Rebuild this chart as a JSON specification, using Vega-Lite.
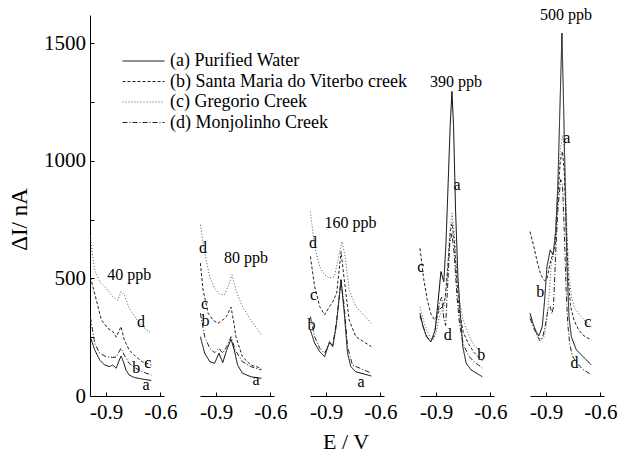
{
"$schema": "https://vega.github.io/schema/vega-lite/v6.json",
"background": "white",
"padding": {"left": 8, "top": 7, "right": 5, "bottom": 0},
"config": {
  "font": "Liberation Serif, Times New Roman, DejaVu Serif, serif",
  "view": {"stroke": null},
  "axis": {"domainColor": "black", "tickColor": "black", "labelColor": "black", "titleColor": "black", "grid": false, "labelFont": "Liberation Serif, Times New Roman, DejaVu Serif, serif", "titleFont": "Liberation Serif, Times New Roman, DejaVu Serif, serif", "titleFontWeight": "normal", "labelFontSize": 21, "tickSize": -4, "domainWidth": 1, "tickWidth": 1},
  "header": {"titleFont": "Liberation Serif, Times New Roman, DejaVu Serif, serif", "titleFontSize": 22, "titleColor": "black", "titleFontWeight": "normal"},
  "legend": {"labelFont": "Liberation Serif, Times New Roman, DejaVu Serif, serif"},
  "text": {"font": "Liberation Serif, Times New Roman, DejaVu Serif, serif"}
},
"data": {"values": [
{"p":1,"s":"a","x":-0.988,"y":250},{"p":1,"s":"a","x":-0.964,"y":196},{"p":1,"s":"a","x":-0.936,"y":153},{"p":1,"s":"a","x":-0.909,"y":132},{"p":1,"s":"a","x":-0.882,"y":125},{"p":1,"s":"a","x":-0.864,"y":132},{"p":1,"s":"a","x":-0.845,"y":118},{"p":1,"s":"a","x":-0.831,"y":146},{"p":1,"s":"a","x":-0.818,"y":170},{"p":1,"s":"a","x":-0.805,"y":146},{"p":1,"s":"a","x":-0.791,"y":111},{"p":1,"s":"a","x":-0.773,"y":89},{"p":1,"s":"a","x":-0.745,"y":79},{"p":1,"s":"a","x":-0.7,"y":72},{"p":1,"s":"a","x":-0.65,"y":66},
{"p":1,"s":"b","x":-0.988,"y":506},{"p":1,"s":"b","x":-0.955,"y":408},{"p":1,"s":"b","x":-0.927,"y":323},{"p":1,"s":"b","x":-0.891,"y":288},{"p":1,"s":"b","x":-0.864,"y":274},{"p":1,"s":"b","x":-0.845,"y":250},{"p":1,"s":"b","x":-0.818,"y":295},{"p":1,"s":"b","x":-0.8,"y":238},{"p":1,"s":"b","x":-0.773,"y":196},{"p":1,"s":"b","x":-0.736,"y":167},{"p":1,"s":"b","x":-0.7,"y":146},{"p":1,"s":"b","x":-0.65,"y":132},
{"p":1,"s":"c","x":-0.988,"y":680},{"p":1,"s":"c","x":-0.975,"y":590},{"p":1,"s":"c","x":-0.964,"y":536},{"p":1,"s":"c","x":-0.936,"y":486},{"p":1,"s":"c","x":-0.9,"y":458},{"p":1,"s":"c","x":-0.864,"y":423},{"p":1,"s":"c","x":-0.836,"y":408},{"p":1,"s":"c","x":-0.818,"y":444},{"p":1,"s":"c","x":-0.8,"y":430},{"p":1,"s":"c","x":-0.773,"y":373},{"p":1,"s":"c","x":-0.736,"y":331},{"p":1,"s":"c","x":-0.7,"y":295},{"p":1,"s":"c","x":-0.65,"y":267},
{"p":1,"s":"d","x":-0.988,"y":336},{"p":1,"s":"d","x":-0.964,"y":224},{"p":1,"s":"d","x":-0.936,"y":182},{"p":1,"s":"d","x":-0.9,"y":167},{"p":1,"s":"d","x":-0.864,"y":164},{"p":1,"s":"d","x":-0.845,"y":166},{"p":1,"s":"d","x":-0.818,"y":203},{"p":1,"s":"d","x":-0.8,"y":174},{"p":1,"s":"d","x":-0.773,"y":139},{"p":1,"s":"d","x":-0.736,"y":118},{"p":1,"s":"d","x":-0.7,"y":103},{"p":1,"s":"d","x":-0.65,"y":89},
{"p":2,"s":"a","x":-0.988,"y":252},{"p":2,"s":"a","x":-0.964,"y":182},{"p":2,"s":"a","x":-0.936,"y":146},{"p":2,"s":"a","x":-0.909,"y":139},{"p":2,"s":"a","x":-0.885,"y":182},{"p":2,"s":"a","x":-0.864,"y":142},{"p":2,"s":"a","x":-0.842,"y":196},{"p":2,"s":"a","x":-0.818,"y":241},{"p":2,"s":"a","x":-0.8,"y":196},{"p":2,"s":"a","x":-0.782,"y":132},{"p":2,"s":"a","x":-0.755,"y":97},{"p":2,"s":"a","x":-0.709,"y":82},{"p":2,"s":"a","x":-0.65,"y":75},
{"p":2,"s":"b","x":-0.988,"y":565},{"p":2,"s":"b","x":-0.973,"y":451},{"p":2,"s":"b","x":-0.945,"y":352},{"p":2,"s":"b","x":-0.918,"y":323},{"p":2,"s":"b","x":-0.891,"y":309},{"p":2,"s":"b","x":-0.864,"y":323},{"p":2,"s":"b","x":-0.842,"y":340},{"p":2,"s":"b","x":-0.818,"y":378},{"p":2,"s":"b","x":-0.8,"y":300},{"p":2,"s":"b","x":-0.791,"y":252},{"p":2,"s":"b","x":-0.755,"y":167},{"p":2,"s":"b","x":-0.709,"y":132},{"p":2,"s":"b","x":-0.65,"y":118},
{"p":2,"s":"c","x":-0.988,"y":728},{"p":2,"s":"c","x":-0.964,"y":607},{"p":2,"s":"c","x":-0.936,"y":508},{"p":2,"s":"c","x":-0.909,"y":458},{"p":2,"s":"c","x":-0.882,"y":434},{"p":2,"s":"c","x":-0.855,"y":430},{"p":2,"s":"c","x":-0.831,"y":472},{"p":2,"s":"c","x":-0.813,"y":515},{"p":2,"s":"c","x":-0.791,"y":451},{"p":2,"s":"c","x":-0.755,"y":380},{"p":2,"s":"c","x":-0.709,"y":323},{"p":2,"s":"c","x":-0.65,"y":260},
{"p":2,"s":"d","x":-0.988,"y":352},{"p":2,"s":"d","x":-0.964,"y":252},{"p":2,"s":"d","x":-0.936,"y":203},{"p":2,"s":"d","x":-0.909,"y":184},{"p":2,"s":"d","x":-0.885,"y":203},{"p":2,"s":"d","x":-0.864,"y":182},{"p":2,"s":"d","x":-0.842,"y":210},{"p":2,"s":"d","x":-0.818,"y":252},{"p":2,"s":"d","x":-0.795,"y":196},{"p":2,"s":"d","x":-0.755,"y":146},{"p":2,"s":"d","x":-0.709,"y":125},{"p":2,"s":"d","x":-0.65,"y":111},
{"p":3,"s":"a","x":-0.988,"y":281},{"p":3,"s":"a","x":-0.964,"y":224},{"p":3,"s":"a","x":-0.936,"y":189},{"p":3,"s":"a","x":-0.909,"y":167},{"p":3,"s":"a","x":-0.882,"y":231},{"p":3,"s":"a","x":-0.864,"y":210},{"p":3,"s":"a","x":-0.845,"y":295},{"p":3,"s":"a","x":-0.818,"y":494},{"p":3,"s":"a","x":-0.8,"y":352},{"p":3,"s":"a","x":-0.782,"y":182},{"p":3,"s":"a","x":-0.764,"y":125},{"p":3,"s":"a","x":-0.736,"y":103},{"p":3,"s":"a","x":-0.65,"y":85},
{"p":3,"s":"b","x":-0.988,"y":593},{"p":3,"s":"b","x":-0.964,"y":465},{"p":3,"s":"b","x":-0.936,"y":380},{"p":3,"s":"b","x":-0.909,"y":345},{"p":3,"s":"b","x":-0.882,"y":380},{"p":3,"s":"b","x":-0.864,"y":401},{"p":3,"s":"b","x":-0.842,"y":437},{"p":3,"s":"b","x":-0.818,"y":614},{"p":3,"s":"b","x":-0.8,"y":494},{"p":3,"s":"b","x":-0.773,"y":323},{"p":3,"s":"b","x":-0.736,"y":252},{"p":3,"s":"b","x":-0.65,"y":210},
{"p":3,"s":"c","x":-0.988,"y":784},{"p":3,"s":"c","x":-0.964,"y":635},{"p":3,"s":"c","x":-0.936,"y":550},{"p":3,"s":"c","x":-0.909,"y":515},{"p":3,"s":"c","x":-0.882,"y":501},{"p":3,"s":"c","x":-0.855,"y":508},{"p":3,"s":"c","x":-0.831,"y":593},{"p":3,"s":"c","x":-0.813,"y":657},{"p":3,"s":"c","x":-0.795,"y":593},{"p":3,"s":"c","x":-0.773,"y":451},{"p":3,"s":"c","x":-0.736,"y":380},{"p":3,"s":"c","x":-0.65,"y":309},
{"p":3,"s":"d","x":-0.988,"y":337},{"p":3,"s":"d","x":-0.964,"y":252},{"p":3,"s":"d","x":-0.936,"y":203},{"p":3,"s":"d","x":-0.909,"y":182},{"p":3,"s":"d","x":-0.882,"y":224},{"p":3,"s":"d","x":-0.864,"y":217},{"p":3,"s":"d","x":-0.842,"y":323},{"p":3,"s":"d","x":-0.818,"y":494},{"p":3,"s":"d","x":-0.8,"y":380},{"p":3,"s":"d","x":-0.782,"y":210},{"p":3,"s":"d","x":-0.755,"y":132},{"p":3,"s":"d","x":-0.65,"y":97},
{"p":4,"s":"a","x":-0.99,"y":352},{"p":4,"s":"a","x":-0.973,"y":295},{"p":4,"s":"a","x":-0.954,"y":252},{"p":4,"s":"a","x":-0.93,"y":230},{"p":4,"s":"a","x":-0.906,"y":281},{"p":4,"s":"a","x":-0.891,"y":394},{"p":4,"s":"a","x":-0.885,"y":440},{"p":4,"s":"a","x":-0.874,"y":529},{"p":4,"s":"a","x":-0.858,"y":486},{"p":4,"s":"a","x":-0.846,"y":650},{"p":4,"s":"a","x":-0.836,"y":862},{"p":4,"s":"a","x":-0.823,"y":1146},{"p":4,"s":"a","x":-0.813,"y":1295},{"p":4,"s":"a","x":-0.804,"y":1146},{"p":4,"s":"a","x":-0.793,"y":791},{"p":4,"s":"a","x":-0.78,"y":508},{"p":4,"s":"a","x":-0.767,"y":352},{"p":4,"s":"a","x":-0.753,"y":210},{"p":4,"s":"a","x":-0.734,"y":139},{"p":4,"s":"a","x":-0.707,"y":111},{"p":4,"s":"a","x":-0.645,"y":82},
{"p":4,"s":"b","x":-0.99,"y":628},{"p":4,"s":"b","x":-0.97,"y":500},{"p":4,"s":"b","x":-0.95,"y":410},{"p":4,"s":"b","x":-0.93,"y":350},{"p":4,"s":"b","x":-0.91,"y":325},{"p":4,"s":"b","x":-0.895,"y":340},{"p":4,"s":"b","x":-0.88,"y":370},{"p":4,"s":"b","x":-0.865,"y":380},{"p":4,"s":"b","x":-0.85,"y":420},{"p":4,"s":"b","x":-0.835,"y":560},{"p":4,"s":"b","x":-0.822,"y":700},{"p":4,"s":"b","x":-0.812,"y":734},{"p":4,"s":"b","x":-0.8,"y":660},{"p":4,"s":"b","x":-0.785,"y":480},{"p":4,"s":"b","x":-0.77,"y":350},{"p":4,"s":"b","x":-0.75,"y":270},{"p":4,"s":"b","x":-0.72,"y":220},{"p":4,"s":"b","x":-0.69,"y":185},{"p":4,"s":"b","x":-0.645,"y":150},
{"p":4,"s":"c","x":-0.99,"y":380},{"p":4,"s":"c","x":-0.97,"y":320},{"p":4,"s":"c","x":-0.95,"y":275},{"p":4,"s":"c","x":-0.93,"y":245},{"p":4,"s":"c","x":-0.915,"y":240},{"p":4,"s":"c","x":-0.9,"y":270},{"p":4,"s":"c","x":-0.885,"y":330},{"p":4,"s":"c","x":-0.87,"y":360},{"p":4,"s":"c","x":-0.855,"y":380},{"p":4,"s":"c","x":-0.84,"y":500},{"p":4,"s":"c","x":-0.825,"y":700},{"p":4,"s":"c","x":-0.812,"y":777},{"p":4,"s":"c","x":-0.8,"y":690},{"p":4,"s":"c","x":-0.785,"y":520},{"p":4,"s":"c","x":-0.77,"y":400},{"p":4,"s":"c","x":-0.75,"y":320},{"p":4,"s":"c","x":-0.72,"y":260},{"p":4,"s":"c","x":-0.69,"y":215},{"p":4,"s":"c","x":-0.645,"y":180},
{"p":4,"s":"d","x":-0.99,"y":340},{"p":4,"s":"d","x":-0.97,"y":290},{"p":4,"s":"d","x":-0.95,"y":250},{"p":4,"s":"d","x":-0.93,"y":232},{"p":4,"s":"d","x":-0.91,"y":260},{"p":4,"s":"d","x":-0.895,"y":340},{"p":4,"s":"d","x":-0.88,"y":400},{"p":4,"s":"d","x":-0.87,"y":420},{"p":4,"s":"d","x":-0.858,"y":330},{"p":4,"s":"d","x":-0.848,"y":300},{"p":4,"s":"d","x":-0.838,"y":450},{"p":4,"s":"d","x":-0.825,"y":650},{"p":4,"s":"d","x":-0.813,"y":692},{"p":4,"s":"d","x":-0.8,"y":600},{"p":4,"s":"d","x":-0.785,"y":420},{"p":4,"s":"d","x":-0.77,"y":300},{"p":4,"s":"d","x":-0.75,"y":220},{"p":4,"s":"d","x":-0.72,"y":170},{"p":4,"s":"d","x":-0.69,"y":145},{"p":4,"s":"d","x":-0.645,"y":120},
{"p":5,"s":"a","x":-0.99,"y":352},{"p":5,"s":"a","x":-0.974,"y":309},{"p":5,"s":"a","x":-0.956,"y":274},{"p":5,"s":"a","x":-0.941,"y":255},{"p":5,"s":"a","x":-0.922,"y":295},{"p":5,"s":"a","x":-0.909,"y":408},{"p":5,"s":"a","x":-0.896,"y":550},{"p":5,"s":"a","x":-0.878,"y":621},{"p":5,"s":"a","x":-0.862,"y":600},{"p":5,"s":"a","x":-0.848,"y":700},{"p":5,"s":"a","x":-0.836,"y":891},{"p":5,"s":"a","x":-0.826,"y":1174},{"p":5,"s":"a","x":-0.813,"y":1543},{"p":5,"s":"a","x":-0.802,"y":1174},{"p":5,"s":"a","x":-0.793,"y":820},{"p":5,"s":"a","x":-0.785,"y":550},{"p":5,"s":"a","x":-0.774,"y":337},{"p":5,"s":"a","x":-0.761,"y":252},{"p":5,"s":"a","x":-0.733,"y":196},{"p":5,"s":"a","x":-0.696,"y":167},{"p":5,"s":"a","x":-0.65,"y":132},
{"p":5,"s":"b","x":-0.99,"y":699},{"p":5,"s":"b","x":-0.97,"y":640},{"p":5,"s":"b","x":-0.95,"y":570},{"p":5,"s":"b","x":-0.93,"y":515},{"p":5,"s":"b","x":-0.91,"y":490},{"p":5,"s":"b","x":-0.895,"y":500},{"p":5,"s":"b","x":-0.88,"y":560},{"p":5,"s":"b","x":-0.865,"y":600},{"p":5,"s":"b","x":-0.85,"y":640},{"p":5,"s":"b","x":-0.835,"y":850},{"p":5,"s":"b","x":-0.822,"y":1000},{"p":5,"s":"b","x":-0.81,"y":1040},{"p":5,"s":"b","x":-0.8,"y":950},{"p":5,"s":"b","x":-0.79,"y":750},{"p":5,"s":"b","x":-0.778,"y":500},{"p":5,"s":"b","x":-0.765,"y":380},{"p":5,"s":"b","x":-0.745,"y":320},{"p":5,"s":"b","x":-0.72,"y":280},{"p":5,"s":"b","x":-0.69,"y":255},{"p":5,"s":"b","x":-0.65,"y":238},
{"p":5,"s":"c","x":-0.99,"y":340},{"p":5,"s":"c","x":-0.97,"y":300},{"p":5,"s":"c","x":-0.95,"y":262},{"p":5,"s":"c","x":-0.93,"y":240},{"p":5,"s":"c","x":-0.915,"y":245},{"p":5,"s":"c","x":-0.9,"y":300},{"p":5,"s":"c","x":-0.885,"y":420},{"p":5,"s":"c","x":-0.872,"y":560},{"p":5,"s":"c","x":-0.86,"y":600},{"p":5,"s":"c","x":-0.848,"y":700},{"p":5,"s":"c","x":-0.835,"y":900},{"p":5,"s":"c","x":-0.82,"y":1060},{"p":5,"s":"c","x":-0.807,"y":1110},{"p":5,"s":"c","x":-0.795,"y":950},{"p":5,"s":"c","x":-0.785,"y":700},{"p":5,"s":"c","x":-0.775,"y":520},{"p":5,"s":"c","x":-0.76,"y":420},{"p":5,"s":"c","x":-0.74,"y":370},{"p":5,"s":"c","x":-0.71,"y":340},{"p":5,"s":"c","x":-0.68,"y":315},{"p":5,"s":"c","x":-0.65,"y":295},
{"p":5,"s":"d","x":-0.99,"y":330},{"p":5,"s":"d","x":-0.97,"y":290},{"p":5,"s":"d","x":-0.95,"y":255},{"p":5,"s":"d","x":-0.935,"y":235},{"p":5,"s":"d","x":-0.92,"y":250},{"p":5,"s":"d","x":-0.905,"y":300},{"p":5,"s":"d","x":-0.89,"y":370},{"p":5,"s":"d","x":-0.878,"y":380},{"p":5,"s":"d","x":-0.868,"y":350},{"p":5,"s":"d","x":-0.86,"y":380},{"p":5,"s":"d","x":-0.848,"y":600},{"p":5,"s":"d","x":-0.835,"y":800},{"p":5,"s":"d","x":-0.82,"y":920},{"p":5,"s":"d","x":-0.81,"y":900},{"p":5,"s":"d","x":-0.8,"y":700},{"p":5,"s":"d","x":-0.79,"y":450},{"p":5,"s":"d","x":-0.78,"y":300},{"p":5,"s":"d","x":-0.77,"y":220},{"p":5,"s":"d","x":-0.755,"y":170},{"p":5,"s":"d","x":-0.73,"y":140},{"p":5,"s":"d","x":-0.7,"y":115},{"p":5,"s":"d","x":-0.65,"y":90},
{"p":1,"t":"40 ppb","x":-0.772,"y":515},{"p":1,"t":"d","x":-0.707,"y":316},{"p":1,"t":"c","x":-0.67,"y":139},{"p":1,"t":"b","x":-0.734,"y":118},{"p":1,"t":"a","x":-0.679,"y":47},
{"p":2,"t":"80 ppb","x":-0.735,"y":587},{"p":2,"t":"d","x":-0.974,"y":628},{"p":2,"t":"c","x":-0.965,"y":392},{"p":2,"t":"b","x":-0.959,"y":318},{"p":2,"t":"a","x":-0.679,"y":68},
{"p":3,"t":"160 ppb","x":-0.766,"y":736},{"p":3,"t":"d","x":-0.974,"y":650},{"p":3,"t":"c","x":-0.97,"y":430},{"p":3,"t":"b","x":-0.982,"y":302},{"p":3,"t":"a","x":-0.707,"y":61},
{"p":4,"t":"390 ppb","x":-0.79,"y":1336},{"p":4,"t":"c","x":-0.985,"y":550},{"p":4,"t":"d","x":-0.836,"y":260},{"p":4,"t":"b","x":-0.651,"y":174},{"p":4,"t":"a","x":-0.785,"y":898},
{"p":5,"t":"500 ppb","x":-0.79,"y":1618},{"p":5,"t":"b","x":-0.933,"y":444},{"p":5,"t":"c","x":-0.67,"y":316},{"p":5,"t":"d","x":-0.744,"y":139},{"p":5,"t":"a","x":-0.786,"y":1096}
]},
"facet": {"column": {"field": "p", "type": "ordinal", "header": {"labels": false, "title": "E / V", "titleOrient": "bottom", "titlePadding": 0}}},
"spacing": 36,
"bounds": "flush",
"resolve": {"scale": {"x": "shared", "y": "shared"}},
"spec": {
  "width": 74,
  "height": 381,
  "layer": [
    {
      "transform": [{"filter": "isValid(datum.s)"}],
      "mark": {"type": "line", "strokeWidth": 1},
      "encoding": {
        "x": {"field": "x", "type": "quantitative", "scale": {"domain": [-0.99, -0.58], "nice": false, "zero": false}, "axis": {"values": [-0.9, -0.75, -0.6], "format": ".1f", "labelExpr": "datum.value == -0.75 ? '' : replace(datum.label, '−', '-')", "title": null, "labelPadding": 9, "labelFlush": false}},
        "y": {"field": "y", "type": "quantitative", "scale": {"domain": [0, 1620], "nice": false}, "axis": {"values": [0, 250, 500, 750, 1000, 1250, 1500], "format": "d", "labelExpr": "datum.value % 500 == 0 ? datum.label : ''", "title": "ΔI/ nA", "titleFontSize": 23, "labelPadding": 8.5, "titleX": -59, "titleY": 204}},
        "color": {"field": "s", "type": "nominal", "scale": {"domain": ["a", "b", "c", "d"], "range": ["#000000", "#222222", "#555555", "#222222"]}, "legend": {"title": null, "orient": "none", "legendX": 32, "legendY": 36, "symbolType": "stroke", "symbolSize": 1764, "clipHeight": 20, "rowPadding": 0.5, "labelFontSize": 18, "labelColor": "black", "symbolStrokeWidth": 1, "labelOffset": 5, "labelLimit": 0, "padding": 0, "labelExpr": "datum.label == 'a' ? '(a) Purified Water' : datum.label == 'b' ? '(b) Santa Maria do Viterbo creek' : datum.label == 'c' ? '(c) Gregorio Creek' : '(d) Monjolinho Creek'"}},
        "strokeDash": {"field": "s", "type": "nominal", "scale": {"domain": ["a", "b", "c", "d"], "range": [[1, 0], [3, 2], [1, 2], [5, 2, 1, 2]]}, "legend": {"title": null, "orient": "none", "legendX": 32, "legendY": 36, "symbolType": "stroke", "symbolSize": 1764, "clipHeight": 20, "rowPadding": 0.5, "labelFontSize": 18, "labelColor": "black", "symbolStrokeWidth": 1, "labelOffset": 5, "labelLimit": 0, "padding": 0, "labelExpr": "datum.label == 'a' ? '(a) Purified Water' : datum.label == 'b' ? '(b) Santa Maria do Viterbo creek' : datum.label == 'c' ? '(c) Gregorio Creek' : '(d) Monjolinho Creek'"}}
      }
    },
    {
      "transform": [{"filter": "isValid(datum.t)"}],
      "mark": {"type": "text", "fontSize": 16, "color": "black"},
      "encoding": {
        "x": {"field": "x", "type": "quantitative"},
        "y": {"field": "y", "type": "quantitative"},
        "text": {"field": "t"}
      }
    }
  ]
}
}
